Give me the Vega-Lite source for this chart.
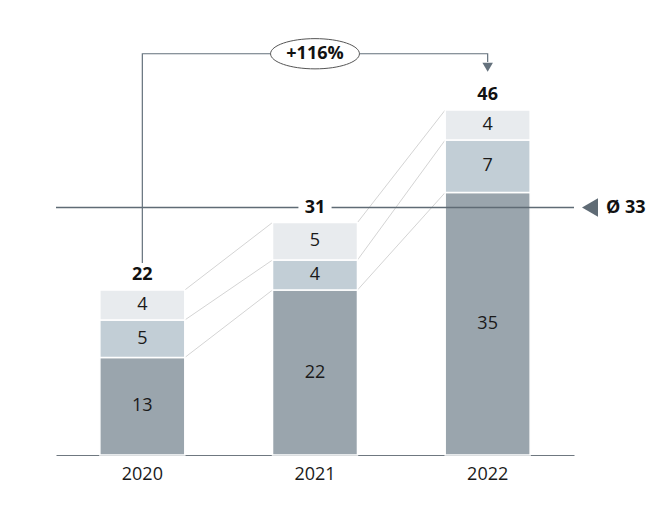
{
  "$schema": "https://vega.github.io/schema/vega-lite/v6.json",
  "autosize": "none",
  "width": 518,
  "height": 450,
  "padding": {"left": 56, "top": 5, "right": 90, "bottom": 60},
  "background": "white",
  "config": {
    "view": {"stroke": null},
    "font": "Open Sans",
    "text": {"font": "Open Sans"}
  },
  "datasets": {
    "segments": [
      {"year": "2020", "seg": "a", "value": 13},
      {"year": "2020", "seg": "b", "value": 5},
      {"year": "2020", "seg": "c", "value": 4},
      {"year": "2021", "seg": "a", "value": 22},
      {"year": "2021", "seg": "b", "value": 4},
      {"year": "2021", "seg": "c", "value": 5},
      {"year": "2022", "seg": "a", "value": 35},
      {"year": "2022", "seg": "b", "value": 7},
      {"year": "2022", "seg": "c", "value": 4}
    ],
    "connectors": [
      {"from": "2020", "to": "2021", "y1": 13, "y2": 22},
      {"from": "2020", "to": "2021", "y1": 18, "y2": 26},
      {"from": "2020", "to": "2021", "y1": 22, "y2": 31},
      {"from": "2021", "to": "2022", "y1": 22, "y2": 35},
      {"from": "2021", "to": "2022", "y1": 26, "y2": 42},
      {"from": "2021", "to": "2022", "y1": 31, "y2": 46}
    ],
    "totals": [
      {"year": "2020", "total": 22},
      {"year": "2021", "total": 31},
      {"year": "2022", "total": 46}
    ],
    "bracket": [
      {"year": "2020", "v": 25.6, "o": 1},
      {"year": "2020", "v": 53.5, "o": 2},
      {"year": "2022", "v": 53.5, "o": 3},
      {"year": "2022", "v": 52.4, "o": 4}
    ]
  },
  "encoding": {
    "x": {
      "field": "year",
      "type": "ordinal",
      "scale": {"domain": ["2020", "2021", "2022"], "paddingInner": 0.508, "paddingOuter": 0.254},
      "axis": {
        "title": null,
        "labelAngle": 0,
        "ticks": false,
        "domainColor": "#6f7880",
        "domainWidth": 1,
        "labelPadding": 10,
        "labelFontSize": 18,
        "labelColor": "#1a1a1a",
        "labelFont": "Open Sans"
      }
    }
  },
  "layer": [
    {
      "data": {"name": "connectors"},
      "mark": {"type": "rule", "color": "#d4d4d4", "strokeWidth": 1},
      "encoding": {
        "x": {"field": "from", "type": "ordinal", "bandPosition": 1},
        "x2": {"field": "to", "bandPosition": 0},
        "y": {"field": "y1", "type": "quantitative", "scale": {"domain": [0, 60], "nice": false}, "axis": null},
        "y2": {"field": "y2"}
      }
    },
    {
      "data": {"name": "segments"},
      "mark": {"type": "bar", "stroke": "white", "strokeWidth": 1.5},
      "encoding": {
        "y": {"field": "value", "type": "quantitative", "stack": "zero"},
        "color": {
          "field": "seg",
          "type": "nominal",
          "scale": {"domain": ["a", "b", "c"], "range": ["#9aa5ad", "#c2ced6", "#e8ebee"]},
          "legend": null
        },
        "order": {"field": "seg", "sort": "ascending"}
      }
    },
    {
      "data": {"name": "segments"},
      "mark": {"type": "text", "fontSize": 18, "color": "#1a1a1a", "baseline": "middle"},
      "encoding": {
        "y": {"field": "value", "type": "quantitative", "stack": "zero", "bandPosition": 0.5},
        "detail": {"field": "seg"},
        "order": {"field": "seg", "sort": "ascending"},
        "text": {"field": "value", "type": "quantitative"}
      }
    },
    {
      "data": {"values": [{"avg": 33}]},
      "mark": {"type": "rule", "color": "#5f6b75", "strokeWidth": 1.5},
      "encoding": {
        "x": null,
        "y": {"field": "avg", "type": "quantitative"}
      }
    },
    {
      "data": {"name": "bracket"},
      "mark": {"type": "line", "color": "#64717c", "strokeWidth": 1.2},
      "encoding": {
        "y": {"field": "v", "type": "quantitative"},
        "order": {"field": "o"}
      }
    },
    {
      "data": {"name": "totals"},
      "mark": {"type": "point", "shape": "M-1,-0.62H1V0.62H-1Z", "size": 1100, "filled": true, "color": "white", "opacity": 1, "yOffset": -15},
      "encoding": {
        "y": {"field": "total", "type": "quantitative"}
      }
    },
    {
      "data": {"name": "totals"},
      "mark": {"type": "text", "fontSize": 18, "fontWeight": "bold", "color": "#111111", "baseline": "middle", "dy": -15},
      "encoding": {
        "y": {"field": "total", "type": "quantitative"},
        "text": {"field": "total", "type": "quantitative"}
      }
    },
    {
      "data": {"values": [{"year": "2022", "v": 51.7}]},
      "mark": {"type": "point", "shape": "triangle-down", "size": 110, "filled": true, "color": "#64717c", "opacity": 1},
      "encoding": {
        "y": {"field": "v", "type": "quantitative"}
      }
    },
    {
      "data": {"values": [{"year": "2021", "v": 53.5, "label": "+116%"}]},
      "mark": {"type": "point", "shape": "M-1,0A1,0.34,0,1,1,1,0A1,0.34,0,1,1,-1,0Z", "size": 7900, "filled": false, "fill": "white", "fillOpacity": 1, "stroke": "#555555", "strokeWidth": 1, "opacity": 1},
      "encoding": {
        "y": {"field": "v", "type": "quantitative"}
      }
    },
    {
      "data": {"values": [{"year": "2021", "v": 53.5, "label": "+116%"}]},
      "mark": {"type": "text", "fontSize": 18, "fontWeight": "bold", "color": "#111111", "baseline": "middle"},
      "encoding": {
        "y": {"field": "v", "type": "quantitative"},
        "text": {"field": "label"}
      }
    },
    {
      "data": {"values": [{"avg": 33, "label": "Ø 33"}]},
      "mark": {"type": "point", "shape": "triangle-left", "size": 340, "filled": true, "color": "#5f6b75", "opacity": 1},
      "encoding": {
        "x": {"value": {"expr": "width + 16"}},
        "y": {"field": "avg", "type": "quantitative"}
      }
    },
    {
      "data": {"values": [{"avg": 33, "label": "Ø 33"}]},
      "mark": {"type": "text", "fontSize": 18, "fontWeight": "bold", "color": "#111111", "baseline": "middle", "align": "left"},
      "encoding": {
        "x": {"value": {"expr": "width + 32"}},
        "y": {"field": "avg", "type": "quantitative"},
        "text": {"field": "label"}
      }
    }
  ]
}
